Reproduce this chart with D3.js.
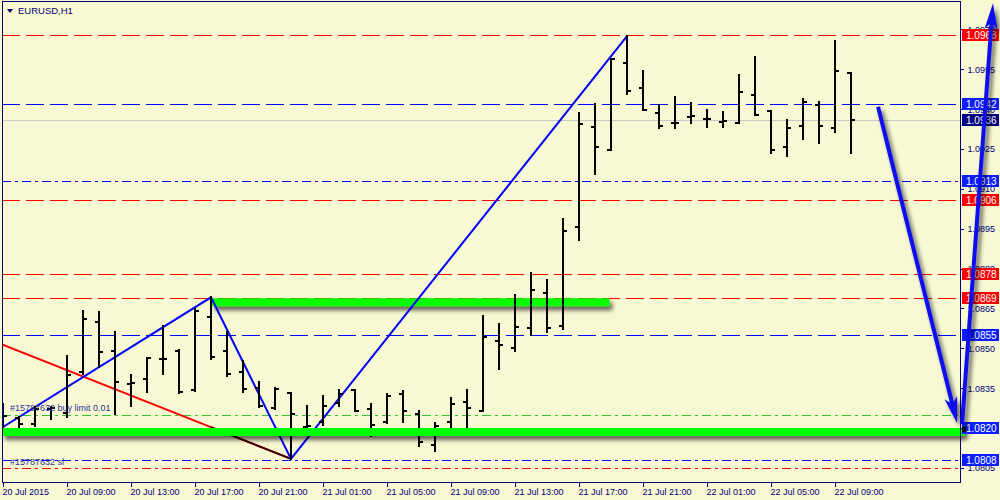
<!DOCTYPE html>
<html>
<head>
<meta charset="utf-8">
<script src="https://cdn.jsdelivr.net/npm/d3@7"></script>
<style>
    body { margin: 0; background: #f8f8d2; }
    svg { display: block; }
</style>
</head>
<body>
<div id="chart"></div>
<script>
// EURUSD H1 bars, 20 Jul 05:00 .. 22 Jul 10:00
var barOpen = [1.08215, 1.08238, 1.08215, 1.08271, 1.08256, 1.08410, 1.08598, 1.08489, 1.08365, 1.08384,
    1.08459, 1.08489, 1.08343, 1.08617, 1.08489, 1.08410, 1.08350, 1.08275, 1.08331, 1.08204,
    1.08223, 1.08294, 1.08343, 1.08271, 1.08223, 1.08328, 1.08253, 1.08136, 1.08223, 1.08298,
    1.08264, 1.08527, 1.08500, 1.08575, 1.08710, 1.08583, 1.08958, 1.09334, 1.09247, 1.09574,
    1.09480, 1.09386, 1.09349, 1.09371, 1.09364, 1.09352, 1.09349, 1.09454, 1.09394, 1.09259,
    1.09337, 1.09416, 1.09330, 1.09536];
var barHigh = [1.08290, 1.08240, 1.08279, 1.08279, 1.08470, 1.08639, 1.08635, 1.08560, 1.08399, 1.08463,
    1.08583, 1.08493, 1.08647, 1.08692, 1.08560, 1.08452, 1.08373, 1.08350, 1.08331, 1.08283,
    1.08320, 1.08343, 1.08343, 1.08290, 1.08328, 1.08339, 1.08264, 1.08219, 1.08313, 1.08343,
    1.08621, 1.08590, 1.08699, 1.08782, 1.08759, 1.08988, 1.09386, 1.09420, 1.09589, 1.09675,
    1.09544, 1.09416, 1.09446, 1.09424, 1.09397, 1.09390, 1.09529, 1.09596, 1.09394, 1.09360,
    1.09439, 1.09428, 1.09657, 1.09536];
var barLow = [1.08196, 1.08204, 1.08208, 1.08234, 1.08241, 1.08403, 1.08429, 1.08253, 1.08283, 1.08335,
    1.08403, 1.08331, 1.08339, 1.08459, 1.08395, 1.08335, 1.08279, 1.08271, 1.08084, 1.08200,
    1.08211, 1.08283, 1.08264, 1.08170, 1.08219, 1.08223, 1.08132, 1.08114, 1.08181, 1.08189,
    1.08264, 1.08421, 1.08489, 1.08549, 1.08560, 1.08572, 1.08906, 1.09157, 1.09247, 1.09458,
    1.09397, 1.09330, 1.09330, 1.09349, 1.09334, 1.09334, 1.09349, 1.09379, 1.09236, 1.09225,
    1.09289, 1.09274, 1.09315, 1.09236];
var barClose = [1.08245, 1.08215, 1.08271, 1.08275, 1.08399, 1.08609, 1.08485, 1.08373, 1.08369, 1.08463,
    1.08459, 1.08335, 1.08639, 1.08467, 1.08403, 1.08346, 1.08283, 1.08346, 1.08253, 1.08208,
    1.08283, 1.08328, 1.08264, 1.08211, 1.08320, 1.08264, 1.08147, 1.08208, 1.08290, 1.08275,
    1.08542, 1.08512, 1.08579, 1.08718, 1.08575, 1.08943, 1.09345, 1.09259, 1.09589, 1.09469,
    1.09397, 1.09337, 1.09349, 1.09375, 1.09364, 1.09356, 1.09465, 1.09379, 1.09247, 1.09330,
    1.09428, 1.09337, 1.09544, 1.09360];

var timeLabels = ["20 Jul 2015", "20 Jul 09:00", "20 Jul 13:00", "20 Jul 17:00", "20 Jul 21:00",
    "21 Jul 01:00", "21 Jul 05:00", "21 Jul 09:00", "21 Jul 13:00", "21 Jul 17:00",
    "21 Jul 21:00", "22 Jul 01:00", "22 Jul 05:00", "22 Jul 09:00"];
var timeLabelIdx = [0, 4, 8, 12, 16, 20, 24, 28, 32, 36, 40, 44, 48, 52];
var priceTicks = [1.0970, 1.0955, 1.0940, 1.0925, 1.0910, 1.0895, 1.0880, 1.0865, 1.0850, 1.0835, 1.0820, 1.0805];

// horizontal objects
var redDashed = [1.0968, 1.0906, 1.0878, 1.0869];
var blueDashed = [1.0942, 1.0855];
var blueDashDot = [1.0913, 1.0808];
var bidPrice = 1.0936;
var orderPrice = 1.0820;
var buyLimitPrice = 1.0825;
var slPrice = 1.0805;

// trend objects (bar index, price)
var zigzagIdx = [0, 13, 18, 39];
var zigzagPrice = [1.08204, 1.08692, 1.08084, 1.09675];
var trendIdx = [-0.06, 18];
var trendPrice = [1.08515, 1.08084];
var upperBandIdx = [13.05, 37.9];
var upperBandPrice = 1.08673;
var lowerBandIdx = [-0.06, 60.1];
var lowerBandPrice = 1.08185;
var arrow1Idx = [54.69, 59.63];
var arrow1Price = [1.09409, 1.08219];
var arrow2Idx = [59.94, 61.875];
var arrow2Price = [1.08215, 1.09799];

var W = 1000, H = 500;
var plot = { left: 2, top: 1, right: 960, bottom: 482 };
var bg = "#f8f8d2", navy = "#00007a";

var svg = d3.select("#chart").append("svg").attr("width", W).attr("height", H);

var defs = svg.append("defs");
defs.append("clipPath").attr("id", "plotClip")
    .append("rect")
    .attr("x", plot.left).attr("y", plot.top)
    .attr("width", plot.right - plot.left).attr("height", plot.bottom - plot.top);
var shadow = defs.append("filter").attr("id", "shadow")
    .attr("filterUnits", "userSpaceOnUse")
    .attr("x", 0).attr("y", 0).attr("width", W).attr("height", H);
shadow.append("feDropShadow")
    .attr("dx", 3).attr("dy", 4).attr("stdDeviation", 2)
    .attr("flood-color", "#000").attr("flood-opacity", 0.6);

svg.append("rect").attr("width", W).attr("height", H).attr("fill", bg);

var x = d3.scaleLinear().domain([0, barOpen.length - 1]).range([3, 851]);
var y = d3.scaleLinear().domain([1.07997, 1.09807]).range([plot.bottom, plot.top]);

function py(p) { return Math.round(y(p)) + 0.5; }

var inner = svg.append("g").attr("clip-path", "url(#plotClip)");

function hline(p, color, dash, w) {
    inner.append("line")
        .attr("x1", plot.left).attr("x2", plot.right)
        .attr("y1", py(p)).attr("y2", py(p))
        .attr("stroke", color)
        .attr("stroke-width", w || 1)
        .attr("stroke-dasharray", dash)
        .attr("shape-rendering", "crispEdges");
}

hline(bidPrice, "#c8c8c8", null);
redDashed.forEach(function (p) { hline(p, "#ff0000", "18,6"); });
blueDashed.forEach(function (p) { hline(p, "#0000ff", "18,6"); });
blueDashDot.forEach(function (p) { hline(p, "#0000ff", "9,4,3,4"); });
hline(buyLimitPrice, "#32c832", "9,4,3,4");
hline(slPrice, "#ff0000", "9,4,3,4");

// thick green bands
function band(idx, p, clip) {
    (clip ? inner : svg).append("line")
        .attr("x1", x(idx[0])).attr("x2", x(idx[1]))
        .attr("y1", y(p)).attr("y2", y(p))
        .attr("stroke", "#00ff00")
        .attr("stroke-width", 8)
        .attr("filter", "url(#shadow)");
}
band(upperBandIdx, upperBandPrice, true);
band(lowerBandIdx, lowerBandPrice, false);
hline(orderPrice, "#000000", "9,4,3,4");

// red trendline
inner.append("line")
    .attr("x1", x(trendIdx[0])).attr("y1", y(trendPrice[0]))
    .attr("x2", x(trendIdx[1])).attr("y2", y(trendPrice[1]))
    .attr("stroke", "#ff0000").attr("stroke-width", 2);
var tk = (13 - trendIdx[0]) / (trendIdx[1] - trendIdx[0]);
inner.append("line")
    .attr("x1", x(13)).attr("y1", y(trendPrice[0] + tk * (trendPrice[1] - trendPrice[0])))
    .attr("x2", x(trendIdx[1])).attr("y2", y(trendPrice[1]))
    .attr("stroke", "#300000").attr("stroke-width", 2);

// zigzag
var zz = d3.line()
    .x(function (d) { return x(d); })
    .y(function (d, i) { return y(zigzagPrice[i]); });
inner.append("path")
    .attr("d", zz(zigzagIdx))
    .attr("fill", "none")
    .attr("stroke", "#0000ff")
    .attr("stroke-width", 2);

// OHLC bars
var bars = inner.append("g")
    .attr("stroke", "#000")
    .attr("stroke-width", 2)
    .attr("shape-rendering", "crispEdges")
    .selectAll("g")
    .data(d3.range(barOpen.length))
    .enter()
    .append("g");
bars.append("line")
    .attr("x1", function (i) { return x(i); })
    .attr("x2", function (i) { return x(i); })
    .attr("y1", function (i) { return y(barHigh[i]) - 1; })
    .attr("y2", function (i) { return y(barLow[i]) + 1; });
bars.append("line")
    .attr("x1", function (i) { return x(i) - 4; })
    .attr("x2", function (i) { return x(i); })
    .attr("y1", function (i) { return y(barOpen[i]); })
    .attr("y2", function (i) { return y(barOpen[i]); });
bars.append("line")
    .attr("x1", function (i) { return x(i); })
    .attr("x2", function (i) { return x(i) + 4; })
    .attr("y1", function (i) { return y(barClose[i]); })
    .attr("y2", function (i) { return y(barClose[i]); });

// order texts
inner.append("text")
    .attr("x", 10).attr("y", y(buyLimitPrice) - 4)
    .attr("fill", "#30309a")
    .style("font", "9px 'Liberation Sans', Arial, sans-serif")
    .text("#15787632 buy limit 0.01");
inner.append("text")
    .attr("x", 10).attr("y", y(slPrice) - 3)
    .attr("fill", "#30309a")
    .style("font", "9px 'Liberation Sans', Arial, sans-serif")
    .text("#15787632 sl");

// frame
svg.append("rect")
    .attr("x", plot.left + 0.5).attr("y", plot.top + 0.5)
    .attr("width", plot.right - plot.left).attr("height", plot.bottom - plot.top)
    .attr("fill", "none").attr("stroke", navy).attr("stroke-width", 1);

// title
svg.append("path").attr("d", "M7,9 L13,9 L10,13 Z").attr("fill", navy);
svg.append("text")
    .attr("x", 18).attr("y", 14)
    .attr("fill", navy)
    .style("font", "9.5px 'Liberation Sans', Arial, sans-serif")
    .text("EURUSD,H1");

// right price axis
var yAxis = svg.append("g")
    .attr("transform", "translate(" + (plot.right + 0.5) + ",0)")
    .call(d3.axisRight(y).tickValues(priceTicks).tickSize(3).tickPadding(4).tickFormat(d3.format(".4f")));
yAxis.select(".domain").remove();
yAxis.selectAll("line").attr("stroke", navy).attr("shape-rendering", "crispEdges");
yAxis.selectAll("text")
    .attr("fill", navy)
    .style("font", "9px 'Liberation Sans', Arial, sans-serif");

// bottom time axis
var xAxis = svg.append("g")
    .attr("transform", "translate(0," + (plot.bottom + 0.5) + ")")
    .call(d3.axisBottom(x).tickValues(timeLabelIdx).tickSize(4)
        .tickFormat(function (d, i) { return timeLabels[i]; }));
xAxis.select(".domain").remove();
xAxis.selectAll("line").attr("stroke", navy).attr("shape-rendering", "crispEdges");
xAxis.selectAll("text")
    .attr("fill", navy)
    .attr("text-anchor", "start")
    .attr("x", -1)
    .attr("y", 6)
    .style("font", "9px 'Liberation Sans', Arial, sans-serif");

// price labels on the axis
var labels = [];
redDashed.forEach(function (p) { labels.push({ p: p, c: "#ff0000" }); });
blueDashed.concat(blueDashDot, [orderPrice]).forEach(function (p) { labels.push({ p: p, c: "#0a1eff" }); });
labels.push({ p: bidPrice, c: "#000080" });

var lab = svg.append("g").selectAll("g").data(labels).enter().append("g");
lab.append("rect")
    .attr("x", plot.right + 2)
    .attr("y", function (d) { return Math.round(y(d.p)) - 6; })
    .attr("width", 37)
    .attr("height", 12)
    .attr("fill", function (d) { return d.c; });
lab.append("text")
    .attr("x", plot.right + 6)
    .attr("y", function (d) { return Math.round(y(d.p)) + 4; })
    .attr("fill", "#fff")
    .style("font", "10px 'Liberation Sans', Arial, sans-serif")
    .text(function (d) { return d3.format(".4f")(d.p); });

svg.append("rect")
    .attr("x", plot.right + 2).attr("y", Math.round(y(orderPrice)) - 1)
    .attr("width", 4).attr("height", 5)
    .attr("fill", "#000");

// arrows
function arrow(idx, pr) {
    var x0 = x(idx[0]), y0 = y(pr[0]), x1 = x(idx[1]), y1 = y(pr[1]);
    var dx = x1 - x0, dy = y1 - y0, len = Math.sqrt(dx * dx + dy * dy);
    var ux = dx / len, uy = dy / len, nx = -uy, ny = ux;
    var L = 26, Wd = 6.5;
    var bx = x1 - L * ux, by = y1 - L * uy;
    var mx = x1 - 0.75 * L * ux, my = y1 - 0.75 * L * uy;
    var g = svg.append("g").attr("filter", "url(#shadow)");
    g.append("line")
        .attr("x1", x0).attr("y1", y0).attr("x2", mx).attr("y2", my)
        .attr("stroke", "#1010f0").attr("stroke-width", 4);
    g.append("path")
        .attr("d", "M" + x1 + "," + y1 +
            "L" + (bx + Wd * nx) + "," + (by + Wd * ny) +
            "L" + mx + "," + my +
            "L" + (bx - Wd * nx) + "," + (by - Wd * ny) + "Z")
        .attr("fill", "#1010f0");
}
arrow(arrow1Idx, arrow1Price);
arrow(arrow2Idx, arrow2Price);
</script>
</body>
</html>
